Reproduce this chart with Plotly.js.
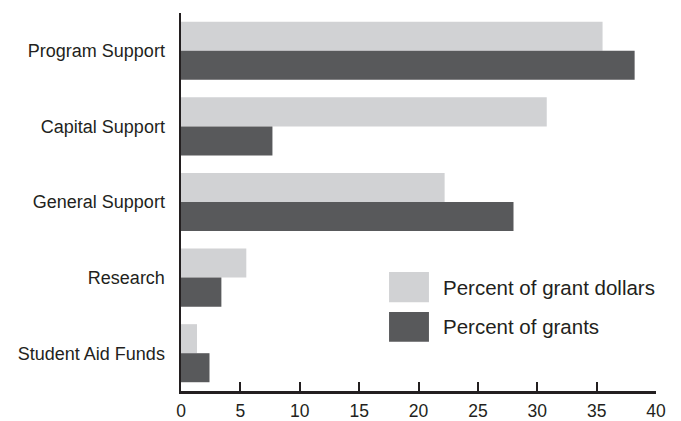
<!DOCTYPE html>
<html>
<head>
<meta charset="utf-8">
<script src="https://cdn.plot.ly/plotly-3.0.1.min.js"></script>
<style>html,body{margin:0;padding:0;background:#fff;}#chart{width:681px;height:421px;}</style>
</head>
<body>
<div id="chart"></div>
<script>
var categories = ["Program Support", "Capital Support", "General Support", "Research", "Student Aid Funds"];
var grantDollars = [35.5, 30.8, 22.2, 5.5, 1.35];
var grants = [38.2, 7.7, 28.0, 3.4, 2.4];
var seriesNames = ["Percent of grant dollars", "Percent of grants"];
var seriesColors = ["#d1d2d4", "#58595b"];
var xTicks = [0, 5, 10, 15, 20, 25, 30, 35, 40];

var inkColor = "#231f20";
var fontFamily = "Liberation Sans, Arial, sans-serif";

var traces = [
  {type: "bar", orientation: "h", y: categories, x: grantDollars, name: seriesNames[0],
   marker: {color: seriesColors[0]}, hoverinfo: "x+y"},
  {type: "bar", orientation: "h", y: categories, x: grants, name: seriesNames[1],
   marker: {color: seriesColors[1]}, hoverinfo: "x+y"}
];

var shapes = [];
var annotations = [];
var legendBoxes = [[0.315, 0.235], [0.209, 0.130]];
for (var i = 0; i < seriesNames.length; i++) {
  shapes.push({type: "rect", xref: "paper", yref: "paper",
    x0: 0.438, x1: 0.522, y0: legendBoxes[i][1], y1: legendBoxes[i][0],
    fillcolor: seriesColors[i], line: {width: 0}});
  annotations.push({xref: "paper", yref: "paper", x: 0.548,
    y: (legendBoxes[i][0] + legendBoxes[i][1]) / 2, xanchor: "left", yanchor: "middle",
    text: seriesNames[i], showarrow: false, font: {family: fontFamily, size: 20.5, color: inkColor}});
}

var layout = {
  width: 681, height: 421,
  margin: {l: 181, r: 25, t: 13, b: 30, pad: 0},
  paper_bgcolor: "#ffffff", plot_bgcolor: "#ffffff",
  barmode: "group", bargap: 0.232, bargroupgap: 0,
  showlegend: false,
  font: {family: fontFamily, size: 18, color: inkColor},
  xaxis: {range: [0, 40], tickvals: xTicks, ticktext: xTicks.map(String),
    showgrid: false, zeroline: false, showline: true, linecolor: inkColor, linewidth: 2.5,
    ticks: "inside", ticklen: 9, tickwidth: 2, tickcolor: inkColor, ticklabelstandoff: 2,
    tickfont: {family: fontFamily, size: 17.5, color: inkColor}, fixedrange: true},
  yaxis: {type: "category", autorange: "reversed", showgrid: false, zeroline: false,
    showline: true, linecolor: inkColor, linewidth: 2.5, ticks: "", ticklabelstandoff: 10,
    tickfont: {family: fontFamily, size: 18, color: inkColor}, fixedrange: true},
  shapes: shapes,
  annotations: annotations
};

Plotly.newPlot("chart", traces, layout, {displayModeBar: false, staticPlot: true});
</script>
</body>
</html>
